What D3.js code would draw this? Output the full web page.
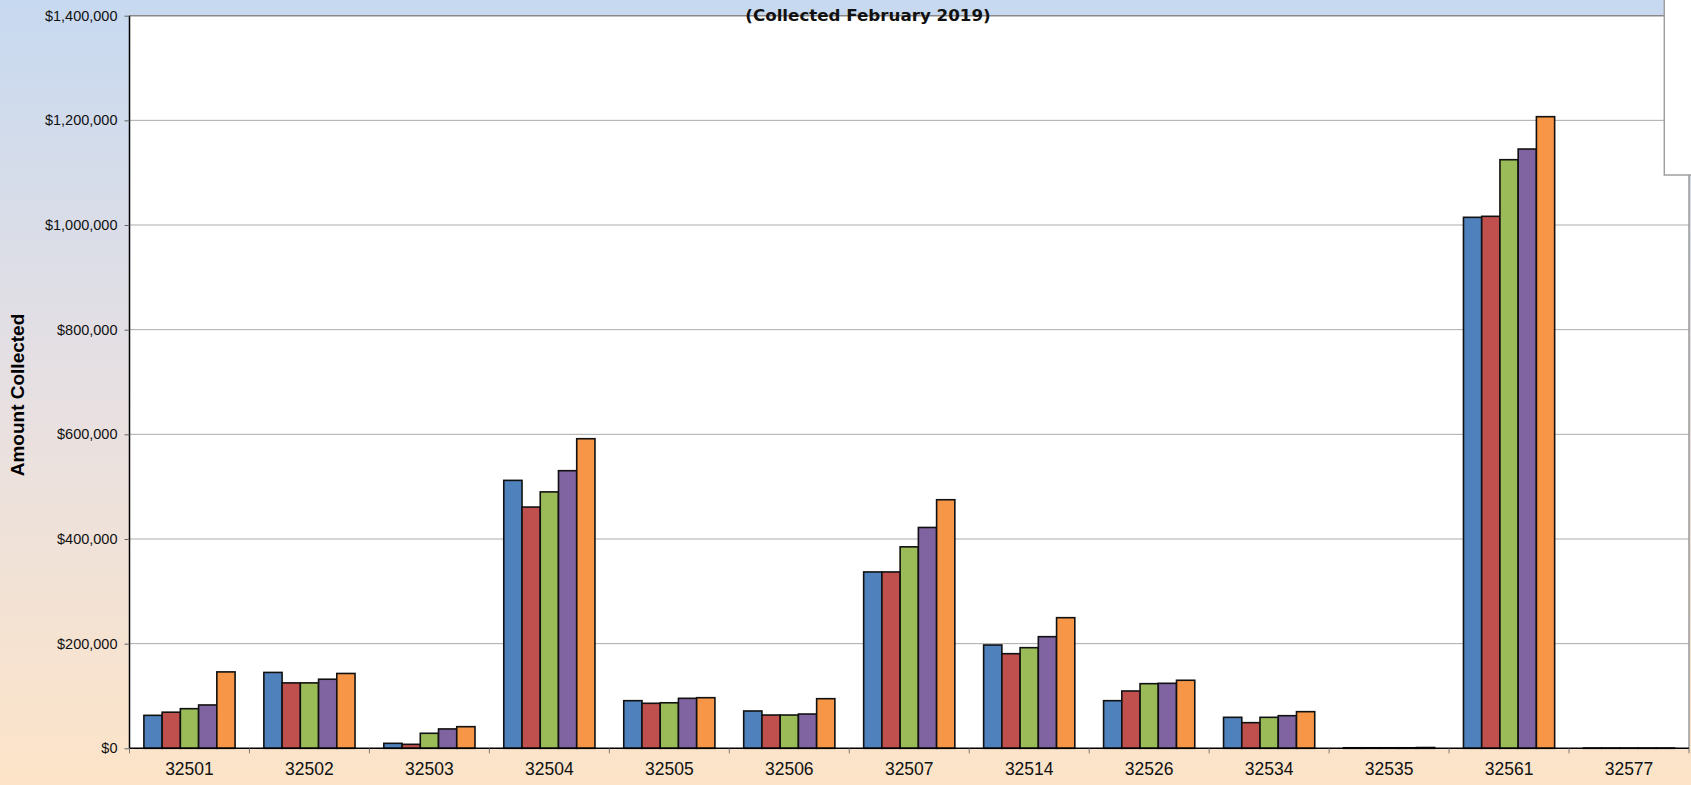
<!DOCTYPE html>
<html>
<head>
<meta charset="utf-8">
<script src="https://cdn.jsdelivr.net/npm/d3@7"></script>
<style>
  html, body { margin: 0; padding: 0; background: #fff; }
  svg { display: block; }
</style>
</head>
<body>
<svg id="chart" width="1691" height="785"></svg>
<script>
// ---- data ----
const categories = ["32501","32502","32503","32504","32505","32506","32507","32514","32526","32534","32535","32561","32577"];
const seriesNames = ["Series 1","Series 2","Series 3","Series 4","Series 5"];
const series1 = [63000,145000,9500,512000,91000,71300,337000,197400,91000,59200,1000,1014700,500];
const series2 = [69000,125000,7600,461000,86000,63600,337000,180800,109500,49000,1000,1016600,500];
const series3 = [75700,125000,28700,490000,87000,63600,385000,192300,123500,59200,1000,1124800,500];
const series4 = [82800,132000,37000,530500,95500,65500,422000,213300,124200,62300,1000,1145200,500];
const series5 = [146000,143000,41300,591600,96700,94800,475000,249600,130000,70000,1500,1207000,500];
const yTicks = [0,200000,400000,600000,800000,1000000,1200000,1400000];
const titleText = "(Collected February 2019)";
const yAxisTitle = "Amount Collected";
const colors = ["#4f81bd","#c0504d","#9bbb59","#8064a2","#f79646"];

const allSeries = [series1, series2, series3, series4, series5];

// ---- layout ----
const W = 1691, H = 785;
const plot = { left: 129.5, right: 1689, top: 15.7, bottom: 748.3 };

const svg = d3.select("#chart");

// background gradient
const defs = svg.append("defs");
const grad = defs.append("linearGradient").attr("id","bg").attr("x1",0).attr("y1",0).attr("x2",0).attr("y2",1);
grad.append("stop").attr("offset","0%").attr("stop-color","#c7d9f0");
grad.append("stop").attr("offset","50%").attr("stop-color","#e7e0e2");
grad.append("stop").attr("offset","100%").attr("stop-color","#fde4c8");
svg.append("rect").attr("x",0).attr("y",0).attr("width",W).attr("height",H).attr("fill","url(#bg)");

// scales
const x0 = d3.scaleBand().domain(categories).range([plot.left, plot.right]).paddingInner(0.24).paddingOuter(0.12);
const x1 = d3.scaleBand().domain(d3.range(allSeries.length)).range([0, x0.bandwidth()]).padding(0);
const y = d3.scaleLinear().domain([0, 1400000]).range([plot.bottom, plot.top]);

// plot area
svg.append("rect").attr("x",plot.left).attr("y",plot.top)
  .attr("width",plot.right-plot.left).attr("height",plot.bottom-plot.top).attr("fill","#fff");

// gridlines
svg.append("g").selectAll("line").data(yTicks.filter(d => d > 0)).join("line")
  .attr("x1",plot.left).attr("x2",plot.right)
  .attr("y1",d => y(d)).attr("y2",d => y(d))
  .attr("stroke",d => d === 1400000 ? "#8a8a8a" : "#ababab")
  .attr("stroke-width",d => d === 1400000 ? 1.5 : 1);

// right border
svg.append("line").attr("x1",plot.right).attr("x2",plot.right).attr("y1",plot.top).attr("y2",plot.bottom)
  .attr("stroke","#9a9a9a").attr("stroke-width",1.5);

// bars
const groups = svg.append("g").selectAll("g").data(categories).join("g")
  .attr("transform", d => `translate(${x0(d)},0)`);
groups.selectAll("rect")
  .data((c, ci) => allSeries.map((s, si) => ({ si, v: s[ci] })))
  .join("rect")
  .attr("x", d => x1(d.si))
  .attr("y", d => y(d.v))
  .attr("width", x1.bandwidth())
  .attr("height", d => y(0) - y(d.v))
  .attr("fill", d => colors[d.si])
  .attr("stroke", "#111")
  .attr("stroke-width", 1.6);

// y axis
const yAxis = d3.axisLeft(y).tickValues(yTicks).tickSize(5).tickPadding(7).tickFormat(d3.format("$,"));
const gy = svg.append("g").attr("transform",`translate(${plot.left},0)`).call(yAxis);
gy.select(".domain").attr("stroke","#000").attr("stroke-width",1.5).attr("d",`M0,${plot.top}V${plot.bottom}`);
gy.selectAll(".tick line").attr("stroke","#666");
gy.selectAll(".tick text").attr("font-family","Liberation Sans, Arial, sans-serif").attr("font-size","14.5px").attr("fill","#111");

// x axis
const gx = svg.append("g").attr("transform",`translate(0,${plot.bottom})`);
gx.append("line").attr("x1",plot.left).attr("x2",plot.right).attr("y1",0).attr("y2",0)
  .attr("stroke","#000").attr("stroke-width",1.5);
const step = x0.step();
const boundaries = d3.range(categories.length + 1).map(i => plot.left + i * step);
gx.selectAll("line.tk").data(boundaries).join("line").attr("class","tk")
  .attr("x1",d => d).attr("x2",d => d).attr("y1",0).attr("y2",5)
  .attr("stroke","#777").attr("stroke-width",1);
gx.selectAll("text").data(categories).join("text")
  .attr("x", d => x0(d) + x0.bandwidth()/2)
  .attr("y", 27)
  .attr("text-anchor","middle")
  .attr("font-family","Liberation Sans, Arial, sans-serif")
  .attr("font-size","17.5px")
  .attr("fill","#111")
  .text(d => d);

// legend box (cut off on the right)
svg.append("rect").attr("x",1664.3).attr("y",-2).attr("width",60).attr("height",177)
  .attr("fill","#fff").attr("stroke","#a0a0a0").attr("stroke-width",1.5);

// title
svg.append("text").attr("x",868).attr("y",21).attr("text-anchor","middle")
  .attr("font-family","'Comic Sans MS', 'DejaVu Sans', sans-serif")
  .attr("font-weight","bold").attr("font-size","16.7px").attr("fill","#111")
  .text(titleText);

// y axis title
svg.append("text").attr("transform","translate(24,395) rotate(-90)")
  .attr("text-anchor","middle")
  .attr("font-family","Liberation Sans, Arial, sans-serif")
  .attr("font-weight","bold").attr("font-size","19px").attr("fill","#000")
  .text(yAxisTitle);
</script>
</body>
</html>
